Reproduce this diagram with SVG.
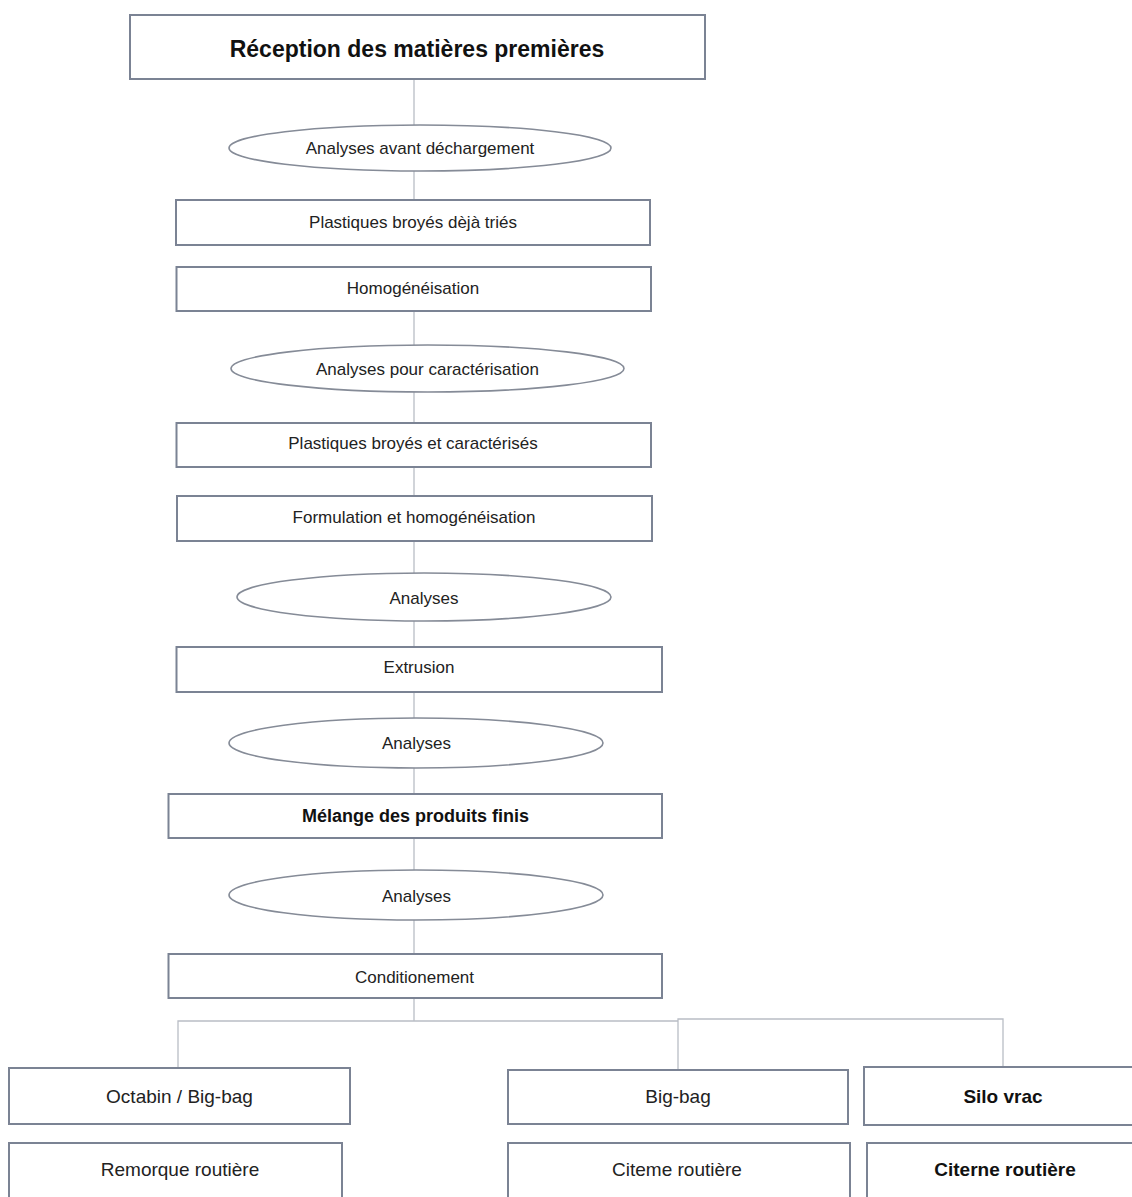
<svg xmlns="http://www.w3.org/2000/svg" width="1132" height="1197" viewBox="0 0 1132 1197">
  <style>
    .box { fill: #ffffff; stroke: #7b8394; stroke-width: 2; }
    .ell { fill: #ffffff; stroke: #858b97; stroke-width: 1.6; }
    .conn { fill: none; stroke: #b9bdc5; stroke-width: 1.3; }
    .t { font-family: "Liberation Sans", Arial, sans-serif; font-size: 17px; fill: #222222; text-anchor: middle; }
    .tb { font-family: "Liberation Sans", Arial, sans-serif; font-size: 18px; font-weight: bold; fill: #111111; text-anchor: middle; }
    .title { font-family: "Liberation Sans", Arial, sans-serif; font-size: 23px; font-weight: bold; fill: #111111; text-anchor: middle; }
    .tl { font-family: "Liberation Sans", Arial, sans-serif; font-size: 19px; fill: #222222; text-anchor: middle; }
    .tlb { font-family: "Liberation Sans", Arial, sans-serif; font-size: 19px; font-weight: bold; fill: #111111; text-anchor: middle; }
  </style>
  <rect width="1132" height="1197" fill="#ffffff"/>

  <g id="connectors">
    <line class="conn" x1="414" y1="79" x2="414" y2="125"/>
    <line class="conn" x1="414" y1="171" x2="414" y2="200"/>
    <line class="conn" x1="414" y1="311" x2="414" y2="345"/>
    <line class="conn" x1="414" y1="392" x2="414" y2="423"/>
    <line class="conn" x1="414" y1="467" x2="414" y2="496"/>
    <line class="conn" x1="414" y1="541" x2="414" y2="573"/>
    <line class="conn" x1="414" y1="621" x2="414" y2="647"/>
    <line class="conn" x1="414" y1="692" x2="414" y2="718"/>
    <line class="conn" x1="414" y1="768" x2="414" y2="794"/>
    <line class="conn" x1="414" y1="838" x2="414" y2="870"/>
    <line class="conn" x1="414" y1="920" x2="414" y2="954"/>
    <line class="conn" x1="414" y1="998" x2="414" y2="1021"/>
    <polyline class="conn" points="178,1068 178,1021 678,1021"/>
    <polyline class="conn" points="678,1070 678,1019 1003,1019 1003,1068"/>
  </g>

  <g id="n-reception">
    <rect class="box" x="130" y="15" width="575" height="64"/>
    <text class="title" x="417" y="57">Réception des matières premières</text>
  </g>
  <g id="n-analyses-avant">
    <ellipse class="ell" cx="420" cy="148" rx="191" ry="23"/>
    <text class="t" x="420" y="154">Analyses avant déchargement</text>
  </g>
  <g id="n-plastiques-tries">
    <rect class="box" x="176" y="200" width="474" height="45"/>
    <text class="t" x="413" y="228">Plastiques broyés dèjà triés</text>
  </g>
  <g id="n-homogeneisation">
    <rect class="box" x="176.5" y="267" width="474.5" height="44"/>
    <text class="t" x="413" y="294">Homogénéisation</text>
  </g>
  <g id="n-analyses-caract">
    <ellipse class="ell" cx="427.5" cy="368.5" rx="196.5" ry="23.5"/>
    <text class="t" x="427.5" y="375">Analyses pour caractérisation</text>
  </g>
  <g id="n-plastiques-caract">
    <rect class="box" x="176.5" y="423" width="474.5" height="44"/>
    <text class="t" x="413" y="449">Plastiques broyés et caractérisés</text>
  </g>
  <g id="n-formulation">
    <rect class="box" x="177" y="496" width="475" height="45"/>
    <text class="t" x="414" y="523">Formulation et homogénéisation</text>
  </g>
  <g id="n-analyses-1">
    <ellipse class="ell" cx="424" cy="597" rx="187" ry="24"/>
    <text class="t" x="424" y="604">Analyses</text>
  </g>
  <g id="n-extrusion">
    <rect class="box" x="176.5" y="647" width="485.5" height="45"/>
    <text class="t" x="419" y="673">Extrusion</text>
  </g>
  <g id="n-analyses-2">
    <ellipse class="ell" cx="416" cy="743" rx="187" ry="25"/>
    <text class="t" x="416.5" y="749">Analyses</text>
  </g>
  <g id="n-melange">
    <rect class="box" x="168.5" y="794" width="493.5" height="44"/>
    <text class="tb" x="415.5" y="822">Mélange des produits finis</text>
  </g>
  <g id="n-analyses-3">
    <ellipse class="ell" cx="416" cy="895" rx="187" ry="25"/>
    <text class="t" x="416.5" y="902">Analyses</text>
  </g>
  <g id="n-conditionement">
    <rect class="box" x="168.5" y="954" width="493.5" height="44"/>
    <text class="t" x="414.5" y="983">Conditionement</text>
  </g>

  <g id="n-octabin">
    <rect class="box" x="9" y="1068" width="341" height="56"/>
    <text class="tl" x="179.5" y="1103">Octabin / Big-bag</text>
  </g>
  <g id="n-remorque">
    <rect class="box" x="9" y="1143" width="333" height="62"/>
    <text class="tl" x="180" y="1176">Remorque routière</text>
  </g>
  <g id="n-bigbag">
    <rect class="box" x="508" y="1070" width="340" height="54"/>
    <text class="tl" x="678" y="1103">Big-bag</text>
  </g>
  <g id="n-citeme">
    <rect class="box" x="508" y="1143" width="342" height="62"/>
    <text class="tl" x="677" y="1176">Citeme routière</text>
  </g>
  <g id="n-silo">
    <rect class="box" x="864" y="1067" width="280" height="58"/>
    <text class="tlb" x="1003" y="1103">Silo vrac</text>
  </g>
  <g id="n-citerne">
    <rect class="box" x="867" y="1143" width="280" height="62"/>
    <text class="tlb" x="1005" y="1176">Citerne routière</text>
  </g>
</svg>
